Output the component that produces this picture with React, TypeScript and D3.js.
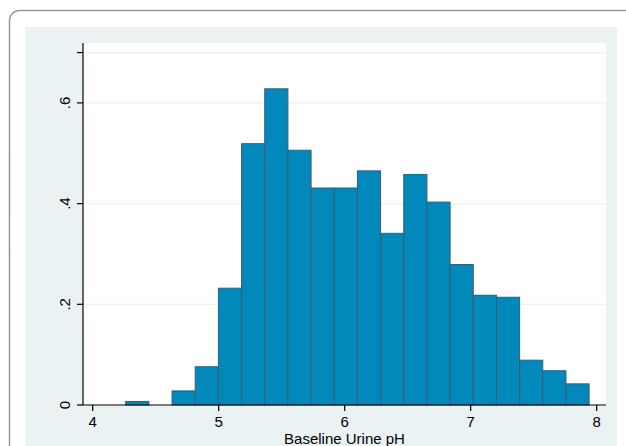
import * as d3 from "d3";
import { useEffect, useRef } from "react";

// histogram of baseline urine pH (density scale)
const binStart = 4.262;
const binWidth = 0.1839;
const densities = [
  0.007, 0, 0.028, 0.076, 0.232, 0.519, 0.628, 0.506, 0.431, 0.431,
  0.465, 0.341, 0.458, 0.403, 0.279, 0.218, 0.214, 0.089, 0.068, 0.042,
];
const xTicks = [4, 5, 6, 7, 8];
const yTicks = [0, 0.2, 0.4, 0.6];
const yGrid = [0.2, 0.4, 0.6, 0.7];
const xTitle = "Baseline Urine pH";

const W = 626;
const H = 446;

function App() {
  const ref = useRef<SVGSVGElement>(null);

  useEffect(() => {
    const svg = d3.select(ref.current);
    svg.selectAll("*").remove();

    const left = 83, right = 606, top = 43, bottom = 405;
    const x = d3.scaleLinear().domain([3.923, 8.074]).range([left, right]);
    const y = d3.scaleLinear().domain([0, 0.719]).range([bottom, top]);
    const font = "'Liberation Sans', Arial, sans-serif";

    // outer frame + panel
    svg.append("rect").attr("width", W).attr("height", H).attr("fill", "#fff");
    svg.append("rect").attr("x", 9.5).attr("y", 10.5).attr("width", 640).attr("height", 460)
      .attr("rx", 10).attr("fill", "#fff").attr("stroke", "#999").attr("stroke-width", 1.5);
    svg.append("rect").attr("x", 25).attr("y", 27).attr("width", 592).attr("height", 440)
      .attr("fill", "#eaf2f3");
    svg.append("rect").attr("x", left).attr("y", top).attr("width", right - left).attr("height", bottom - top)
      .attr("fill", "#fff");

    // grid
    svg.append("g").selectAll("line").data(yGrid).join("line")
      .attr("x1", left).attr("x2", right)
      .attr("y1", d => y(d)).attr("y2", d => y(d))
      .attr("stroke", "#eaf2f3").attr("stroke-width", 1.2);

    // bars
    const bars = densities.map((d, i) => ({ x0: binStart + i * binWidth, x1: binStart + (i + 1) * binWidth, d }))
      .filter(b => b.d > 0);
    svg.append("g").selectAll("rect").data(bars).join("rect")
      .attr("x", b => x(b.x0))
      .attr("width", b => x(b.x1) - x(b.x0))
      .attr("y", b => y(b.d))
      .attr("height", b => y(0) - y(b.d))
      .attr("fill", "#0089ba")
      .attr("stroke", "#3f5a70")
      .attr("stroke-width", 1);

    // y axis
    svg.append("line").attr("x1", left).attr("x2", left).attr("y1", top).attr("y2", bottom)
      .attr("stroke", "#000").attr("stroke-width", 1.2);
    svg.append("g").selectAll("line").data(yGrid.concat([0])).join("line")
      .attr("x1", left - 6).attr("x2", left)
      .attr("y1", d => y(d)).attr("y2", d => y(d))
      .attr("stroke", "#000").attr("stroke-width", 1.2);
    svg.append("g").selectAll("text").data(yTicks).join("text")
      .attr("transform", d => `translate(70, ${y(d)}) rotate(-90)`)
      .attr("text-anchor", "middle")
      .attr("font-family", font).attr("font-size", 15).attr("fill", "#000")
      .text(d => d === 0 ? "0" : d3.format(".1f")(d).replace(/^0/, ""));

    // x axis
    svg.append("line").attr("x1", left).attr("x2", right).attr("y1", bottom).attr("y2", bottom)
      .attr("stroke", "#000").attr("stroke-width", 1.2);
    svg.append("g").selectAll("line").data(xTicks).join("line")
      .attr("x1", d => x(d)).attr("x2", d => x(d))
      .attr("y1", bottom).attr("y2", bottom + 6)
      .attr("stroke", "#000").attr("stroke-width", 1.2);
    svg.append("g").selectAll("text").data(xTicks).join("text")
      .attr("x", d => x(d)).attr("y", 427)
      .attr("text-anchor", "middle")
      .attr("font-family", font).attr("font-size", 15).attr("fill", "#000")
      .text(d => d);

    svg.append("text").attr("x", (left + right) / 2).attr("y", 444)
      .attr("text-anchor", "middle")
      .attr("font-family", font).attr("font-size", 15).attr("fill", "#000")
      .text(xTitle);
  }, []);

  return (
    <svg ref={ref} width={W} height={H} style={{ position: "absolute", left: 0, top: 0 }} />
  );
}

export default App;
